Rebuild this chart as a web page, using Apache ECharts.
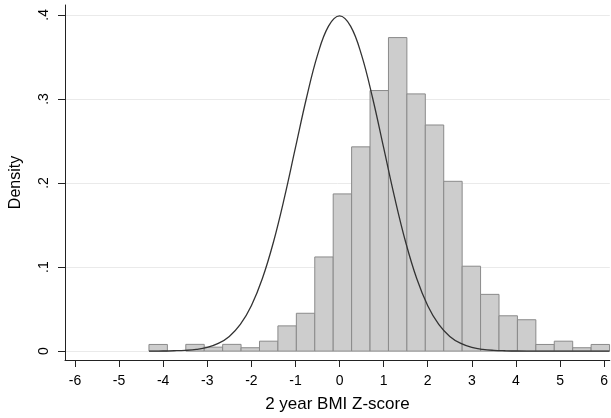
<!DOCTYPE html>
<html>
<head>
<meta charset="utf-8">
<script src="https://cdn.jsdelivr.net/npm/echarts@6/dist/echarts.min.js"></script>
<style>
html,body{margin:0;padding:0;background:#fff;}
#chart{width:611px;height:418px;}
</style>
</head>
<body>
<div id="chart"></div>
<script>
// Histogram bins (2 year BMI Z-score)
const binStart = -4.322;
const binWidth = 0.4178;
const binDensity = [0.0079, 0, 0.008, 0.0047, 0.008, 0.004, 0.0118, 0.030, 0.045, 0.112,
                    0.187, 0.243, 0.310, 0.373, 0.306, 0.269, 0.202, 0.101, 0.0675, 0.042,
                    0.0373, 0.0079, 0.0118, 0.004, 0.0079];
// Overlaid normal density curve
const curveX = [-4.32, -4, -3.75, -3.5, -3.25, -3, -2.75, -2.5, -2.25, -2, -1.75, -1.5, -1.25, -1, -0.75, -0.5, -0.25, 0,
                0.25, 0.5, 0.75, 1, 1.25, 1.5, 1.75, 2, 2.25, 2.5, 2.75, 3, 3.25, 3.5, 3.75, 4, 4.5, 5, 5.5, 6.12];
const curveY = [0.0000, 0.0001, 0.0004, 0.0009, 0.0020, 0.0044, 0.0091, 0.0175, 0.0317, 0.0540, 0.0863, 0.1295, 0.1826, 0.2420, 0.3011, 0.3521, 0.3867, 0.3989,
                0.3867, 0.3521, 0.3011, 0.2420, 0.1826, 0.1295, 0.0863, 0.0540, 0.0317, 0.0175, 0.0091, 0.0044, 0.0020, 0.0009, 0.0004, 0.0001, 0.0000, 0.0000, 0.0000, 0.0000];
const xTicks = [-6, -5, -4, -3, -2, -1, 0, 1, 2, 3, 4, 5, 6];
const yTicks = [0, 0.1, 0.2, 0.3, 0.4];
const xTitle = '2 year BMI Z-score';
const yTitle = 'Density';

const barData = binDensity.map((d, i) => [binStart + i * binWidth, binStart + (i + 1) * binWidth, d]);
const lineData = curveX.map((x, i) => [x, curveY[i]]);

const chart = echarts.init(document.getElementById('chart'), null, {renderer: 'canvas'});
const FONT = 'Liberation Sans, Arial, Helvetica, sans-serif';
chart.setOption({
  animation: false,
  backgroundColor: '#ffffff',
  grid: {left: 64, right: 0, top: 5, bottom: 54, containLabel: false},
  xAxis: {
    type: 'value',
    min: -6.226, max: 6.129,
    name: xTitle, nameLocation: 'middle', nameGap: 36,
    nameTextStyle: {fontFamily: FONT, fontSize: 17, color: '#000'},
    axisLine: {show: true, onZero: false, lineStyle: {color: '#222', width: 1}},
    axisTick: {show: true, length: 7, customValues: xTicks, lineStyle: {color: '#222', width: 1}},
    axisLabel: {customValues: xTicks, margin: 14, fontFamily: FONT, fontSize: 14, color: '#000',
      formatter: v => String(v)},
    splitLine: {show: false}
  },
  yAxis: {
    type: 'value',
    min: -0.01059, max: 0.41176,
    name: yTitle, nameLocation: 'middle', nameGap: 41, nameRotate: 90,
    nameTextStyle: {fontFamily: FONT, fontSize: 16, color: '#000'},
    axisLine: {show: true, onZero: false, lineStyle: {color: '#222', width: 1}},
    axisTick: {show: true, length: 7, customValues: yTicks, lineStyle: {color: '#222', width: 1}},
    axisLabel: {customValues: yTicks, rotate: 90, margin: 14, fontFamily: FONT, fontSize: 14, color: '#000',
      formatter: v => v === 0 ? '0' : '.' + Math.round(v * 10)},
    splitLine: {show: true, lineStyle: {color: '#eaeaea', width: 1}}
  },
  series: [
    {
      type: 'custom',
      data: barData,
      encode: {x: [0, 1], y: 2},
      z: 2,
      renderItem: function (params, api) {
        const x0 = api.value(0), x1 = api.value(1), h = api.value(2);
        if (!(h > 0)) return null;
        const p0 = api.coord([x0, h]);
        const p1 = api.coord([x1, 0]);
        return {
          type: 'rect',
          shape: {x: p0[0], y: p0[1], width: p1[0] - p0[0], height: p1[1] - p0[1]},
          style: {fill: '#cdcdcd', stroke: '#8a8a8a', lineWidth: 1}
        };
      }
    },
    {
      type: 'line',
      data: lineData,
      showSymbol: false,
      smooth: 0.4,
      z: 3,
      lineStyle: {color: '#333333', width: 1.3}
    }
  ]
});
</script>
</body>
</html>
